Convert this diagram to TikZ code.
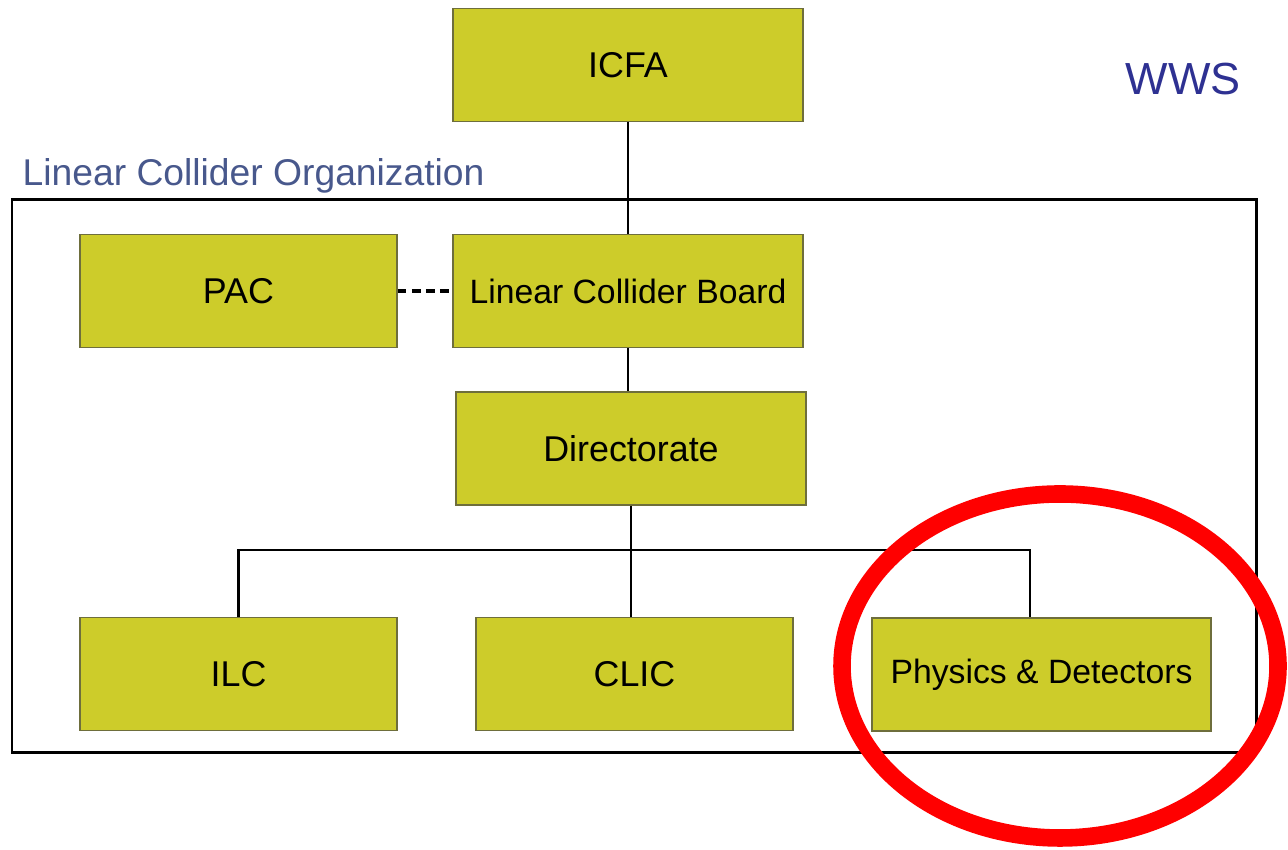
\documentclass[tikz,border=0pt]{standalone}
\usepackage{fontspec}
\setmainfont{Liberation Sans}
\usepackage{tikz}

\definecolor{boxfill}{RGB}{205,204,42}
\definecolor{boxline}{RGB}{110,110,60}
\definecolor{orgblue}{RGB}{72,88,140}
\definecolor{wwsblue}{RGB}{46,49,146}

\begin{document}
\begin{tikzpicture}[
		unit/.style={draw=boxline, line width=0.4pt, fill=boxfill, minimum height=1.13cm, inner sep=0pt, font=\fontsize{10.2}{12}\selectfont},
		wide/.style={unit, minimum width=3.5cm},
		narrow/.style={unit, minimum width=3.17cm},
		link/.style={line width=0.7pt, black}
	]
				% Page size
				\useasboundingbox (0,0) rectangle (12.88,8.5);

				% Organization frame
				\draw[line width=0.85pt] (0.12,0.97) rectangle (12.56,6.5);
				\node[anchor=base west, inner sep=0pt, text=orgblue, font=\fontsize{10.6}{12}\selectfont] (lco) at (0.22,6.64) {Linear Collider Organization};
				\node[anchor=base west, inner sep=0pt, text=wwsblue, font=\fontsize{12.8}{14}\selectfont] (wws) at (11.25,7.55) {WWS};

				% Boxes
				\node[wide] (icfa) at (6.28,7.85) {ICFA};
				\node[wide, font=\fontsize{9.6}{12}\selectfont] (lcb) at (6.28,5.59) {Linear Collider Board};
				\node[narrow] (pac) at (2.385,5.59) {PAC};
				\node[wide] (dir) at (6.31,4.015) {Directorate};
				\node[narrow] (ilc) at (2.385,1.76) {ILC};
				\node[narrow] (clic) at (6.345,1.76) {CLIC};
				\node[unit, minimum width=3.39cm, font=\fontsize{9.6}{12}\selectfont] (pd) at (10.415,1.755) {Physics \& Detectors};

				% Connectors
				\draw[link] (icfa) -- (lcb);
				\draw[link] (lcb) -- (lcb.south |- dir.north);
				\draw[line width=0.9pt, dash pattern=on 2.5pt off 1.5pt] (pac) -- (lcb);
				\draw[link] (dir.south) -- (dir.south |- clic.north);

				% Branch to the three groups
				\coordinate (busL) at (2.385,3.0);
				\coordinate (busR) at (10.3,3.0);
				\draw[link] (ilc.north) -- (busL) -- (busR) -- (busR |- pd.north);

				% Highlight
				\draw[red, line width=5pt] (10.6,1.84) ellipse (2.18cm and 1.72cm);
			\end{tikzpicture}
\end{document}
